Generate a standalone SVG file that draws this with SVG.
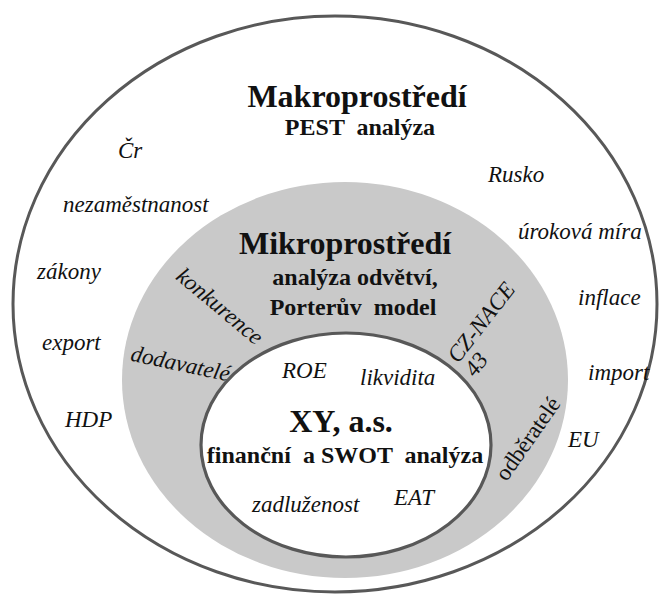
<svg xmlns="http://www.w3.org/2000/svg" width="668" height="596" viewBox="0 0 668 596">
<style>
.bg{fill:#ffffff}
.ring{fill:none;stroke:#585858;stroke-width:3}
.micro{fill:#c9c9c9;stroke:none}
.core{fill:#ffffff;stroke:#585858;stroke-width:3.2}
text{font-family:"Liberation Serif","Times New Roman",serif;fill:#111;white-space:pre}
.t1{font-size:32px;font-weight:bold;text-anchor:middle}
.t2{font-size:24px;font-weight:bold;text-anchor:middle}
.it{font-size:23px;font-style:italic}
.itc{font-size:23px;font-style:italic;text-anchor:middle}
.rg{font-size:23px;text-anchor:middle}
</style>
<rect class="bg" x="0" y="0" width="668" height="596"/>
<g id="makro">
<ellipse class="ring" cx="335" cy="304" rx="322" ry="288"/>
<text class="t1" x="357" y="107">Makroprostředí</text>
<text class="t2" x="360" y="135">PEST  analýza</text>
<text class="it" x="118" y="158">Čr</text>
<text class="it" x="63" y="212">nezaměstnanost</text>
<text class="it" x="37" y="279">zákony</text>
<text class="it" x="42" y="350">export</text>
<text class="it" x="65" y="427">HDP</text>
<text class="it" x="488" y="182">Rusko</text>
<text class="it" x="518" y="239">úroková míra</text>
<text class="it" x="578" y="305">inflace</text>
<text class="it" x="588" y="380">import</text>
<text class="it" x="568" y="447">EU</text>
</g>
<g id="mikro">
<ellipse class="micro" cx="345" cy="380" rx="223" ry="198"/>
<text class="t1" x="345" y="254">Mikroprostředí</text>
<text class="t2" x="355" y="285">analýza odvětví,</text>
<text class="t2" x="353" y="315">Porterův  model</text>
<text class="itc" transform="translate(215,312) rotate(40)">konkurence</text>
<text class="itc" transform="translate(179,371) rotate(12)">dodavatelé</text>
<text class="itc" transform="translate(487,327) rotate(-52)">CZ-NACE</text>
<text class="itc" transform="translate(482,369) rotate(-52)">43</text>
<text class="rg" transform="translate(534,443) rotate(-55)">odběratelé</text>
</g>
<g id="firma">
<ellipse class="core" cx="346" cy="445" rx="145" ry="112"/>
<text class="t1" x="341" y="432">XY, a.s.</text>
<text class="t2" x="345" y="463">finanční  a SWOT  analýza</text>
<text class="it" x="282" y="378">ROE</text>
<text class="it" x="360" y="385">likvidita</text>
<text class="it" x="252" y="512">zadluženost</text>
<text class="it" x="394" y="505">EAT</text>
</g>
</svg>
